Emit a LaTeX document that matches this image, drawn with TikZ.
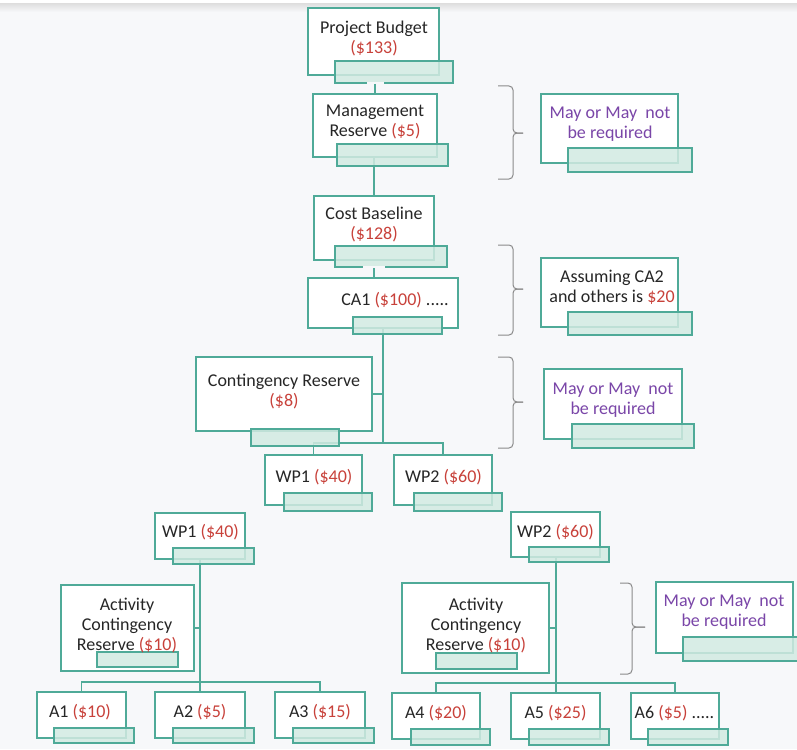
\documentclass[tikz,border=0pt]{standalone}
\usepackage{fontspec}
\setmainfont{Carlito}
\definecolor{bgc}{HTML}{F7F8FA}
\definecolor{teal1}{HTML}{4FAA98}
\definecolor{barfill}{HTML}{D2EAE2}
\definecolor{redc}{HTML}{C8413A}
\definecolor{purp}{HTML}{7A46A8}
\definecolor{bracec}{HTML}{8A8A8A}
\newcommand{\rd}[1]{\textcolor{redc}{#1}}
\newcommand{\mybox}[5]{\node[boxst, minimum width={(#4-#2)*1pt}, minimum height={(#5-#3)*1pt}] (#1) at ({(#2+#4)/2},{(#3+#5)/2}) {};}
\newcommand{\mybar}[5]{\node[barst, minimum width={(#4-#2)*1pt}, minimum height={(#5-#3)*1pt}] (#1) at ({(#2+#4)/2},{(#3+#5)/2}) {};}
\tikzset{
  boxst/.style={draw=teal1, line width=1.6pt, fill=white, inner sep=0pt, outer sep=0pt},
  barst/.style={draw=teal1, line width=1.6pt, fill=barfill, fill opacity=0.85, draw opacity=1, inner sep=0pt, outer sep=0pt},
  txt/.style={font=\fontsize{18}{20}\selectfont, align=center, inner sep=0pt, text=black!85},
  ntxt/.style={txt, text=purp},
  conn/.style={draw=teal1, line width=1.6pt},
  gapst/.style={draw=bgc, line width=2.2pt},
  bracest/.style={draw=bracec, line width=1pt, rounded corners=4pt},
}
\begin{document}
\begin{tikzpicture}[x=1pt, y=-1pt]
\useasboundingbox (0,0) rectangle (797,749);
\fill[white] (0,0) rectangle (797,749);
\fill[bgc] (0,5) rectangle (797,749);
\shade[top color=black!12, bottom color=bgc] (0,4) rectangle (797,12);

% boxes
\mybox{pb}{308}{8}{439}{75}
\mybox{mr}{313}{94}{437}{157}
\mybox{cb}{314}{196}{434}{260}
\mybox{ca1}{308}{278}{458}{328}
\mybox{cr}{196}{357}{372}{431}
\mybox{wp1m}{265}{455}{362}{505}
\mybox{wp2m}{394}{455}{492}{505}
\mybox{wp1l}{155}{513}{245}{559}
\mybox{acrl}{61}{585}{194}{671}
\mybox{a1}{37}{692}{126}{738}
\mybox{a2}{155}{692}{245}{738}
\mybox{a3}{275}{692}{365}{738}
\mybox{wp2l}{511}{512}{600}{557}
\mybox{acrr}{402}{583}{549}{673}
\mybox{a4}{392}{693}{480}{739}
\mybox{a5}{511}{693}{600}{739}
\mybox{a6}{631}{693}{719}{739}
\mybox{n1}{541}{94}{678}{163}
\mybox{n2}{541}{258}{678}{327}
\mybox{n3}{544}{369}{682}{439}
\mybox{n4}{656}{582}{793}{653}

% connectors
\coordinate (j1) at (383,443);
\coordinate (j2) at (200,682);
\coordinate (j3) at (556,683);
\draw[conn] (mr.south -| cb.north) -- (cb.north);
\draw[conn] (ca1.south -| j1) -- (j1);
\draw[conn] (cr.east) -- (cr.east -| j1);
\draw[conn] (wp1m.north) |- (j1) -| (wp2m.north);
\draw[conn] (wp1l.south) -- (j2);
\draw[conn] (acrl.east) -- (acrl.east -| j2);
\draw[conn] (a1.north) |- (j2) -| (a3.north);
\draw[conn] (j2) -- (a2.north);
\draw[conn] (wp2l.south -| j3) -- (j3);
\draw[conn] (acrr.east) -- (acrr.east -| j3);
\draw[conn] (a4.north) |- (j3) -| (a6.north);
\draw[conn] (j3) -- (a5.north -| j3);

% bars
\mybar{pbbar}{335}{61}{453}{83}
\mybar{mrbar}{337}{144}{448}{166}
\mybar{cbbar}{335}{246}{447}{267}
\mybar{ca1bar}{353}{317}{442}{334}
\mybar{crbar}{251}{429}{339}{446}
\mybar{wp1mbar}{284}{493}{372}{511}
\mybar{wp2mbar}{414}{493}{502}{511}
\mybar{wp1lbar}{173}{548}{254}{564}
\mybar{acrlbar}{97}{652}{178}{667}
\mybar{a1bar}{54}{728}{134}{743}
\mybar{a2bar}{173}{728}{254}{743}
\mybar{a3bar}{293}{728}{374}{743}
\mybar{wp2lbar}{529}{547}{609}{562}
\mybar{acrrbar}{436}{653}{517}{669}
\mybar{a4bar}{411}{729}{490}{745}
\mybar{a5bar}{529}{729}{609}{745}
\mybar{a6bar}{648}{729}{728}{745}
\mybar{n1bar}{568}{148}{692}{172}
\mybar{n2bar}{568}{312}{692}{335}
\mybar{n3bar}{572}{424}{694}{448}
\mybar{n4bar}{683}{637}{812}{661}

% gaps in bar edges where the connectors leave them
\draw[gapst] ([xshift=-8pt]pbbar.south -| mr.north) -- ([xshift=9pt]pbbar.south -| mr.north);
\draw[conn] ([yshift=-1pt]pbbar.south -| mr.north) -- (mr.north);
\draw[gapst] ([xshift=-11pt]cbbar.south -| cb.north) -- ([xshift=11pt]cbbar.south -| cb.north);
\draw[conn] ([yshift=-1pt]cbbar.south -| cb.north) -- (ca1.north -| cb.north);

% texts
\node[txt] (pbt) at (374,38) {Project Budget\\\rd{(\$133)}};
\node[txt] (mrt) at (375,121.5) {Management\\Reserve \rd{(\$5)}};
\node[txt] (cbt) at (374,224) {Cost Baseline\\\rd{(\$128)}};
\node[txt] (ca1t) at (395,300) {CA1 \rd{(\$100)} .....};
\node[txt] (crt) at (284,392) {Contingency Reserve\\\rd{(\$8)}};
\node[txt] (wp1mt) at (314,477) {WP1 \rd{(\$40)}};
\node[txt] (wp2mt) at (443.5,477) {WP2 \rd{(\$60)}};
\node[txt] (wp1lt) at (200.5,532) {WP1 \rd{(\$40)}};
\node[txt] (wp2lt) at (555.5,532) {WP2 \rd{(\$60)}};
\node[txt] (acrlt) at (127,626) {Activity\\Contingency\\Reserve \rd{(\$10)}};
\node[txt] (acrrt) at (476,626) {Activity\\Contingency\\Reserve \rd{(\$10)}};
\node[txt] (a1t) at (80,712) {A1 \rd{(\$10)}};
\node[txt] (a2t) at (200,712) {A2 \rd{(\$5)}};
\node[txt] (a3t) at (320,712) {A3 \rd{(\$15)}};
\node[txt] (a4t) at (436,713) {A4 \rd{(\$20)}};
\node[txt] (a5t) at (555.5,713) {A5 \rd{(\$25)}};
\node[txt] (a6t) at (674.5,713) {A6 \rd{(\$5)} .....};
\node[ntxt] (n1t) at (610,124) {May or May\ \ not\\be required};
\node[txt] (n2t) at (612,287.5) {Assuming CA2\\and others is \rd{\$20}};
\node[ntxt] (n3t) at (613,400) {May or May\ \ not\\be required};
\node[ntxt] (n4t) at (724,612.5) {May or May\ \ not\\be required};

% braces
\draw[bracest] (498,86) -- (513,86) -- (513,133) -- (523,133);
\draw[bracest] (523,133) -- (513,133) -- (513,179) -- (498,179);
\draw[bracest] (498,245) -- (513,245) -- (513,289) -- (523,289);
\draw[bracest] (523,289) -- (513,289) -- (513,335) -- (498,335);
\draw[bracest] (498,357) -- (513,357) -- (513,402) -- (523,402);
\draw[bracest] (523,402) -- (513,402) -- (513,448) -- (498,448);
\draw[bracest] (620,583) -- (632,583) -- (632,627) -- (645,627);
\draw[bracest] (645,627) -- (632,627) -- (632,674) -- (620,674);
\end{tikzpicture}
\end{document}
